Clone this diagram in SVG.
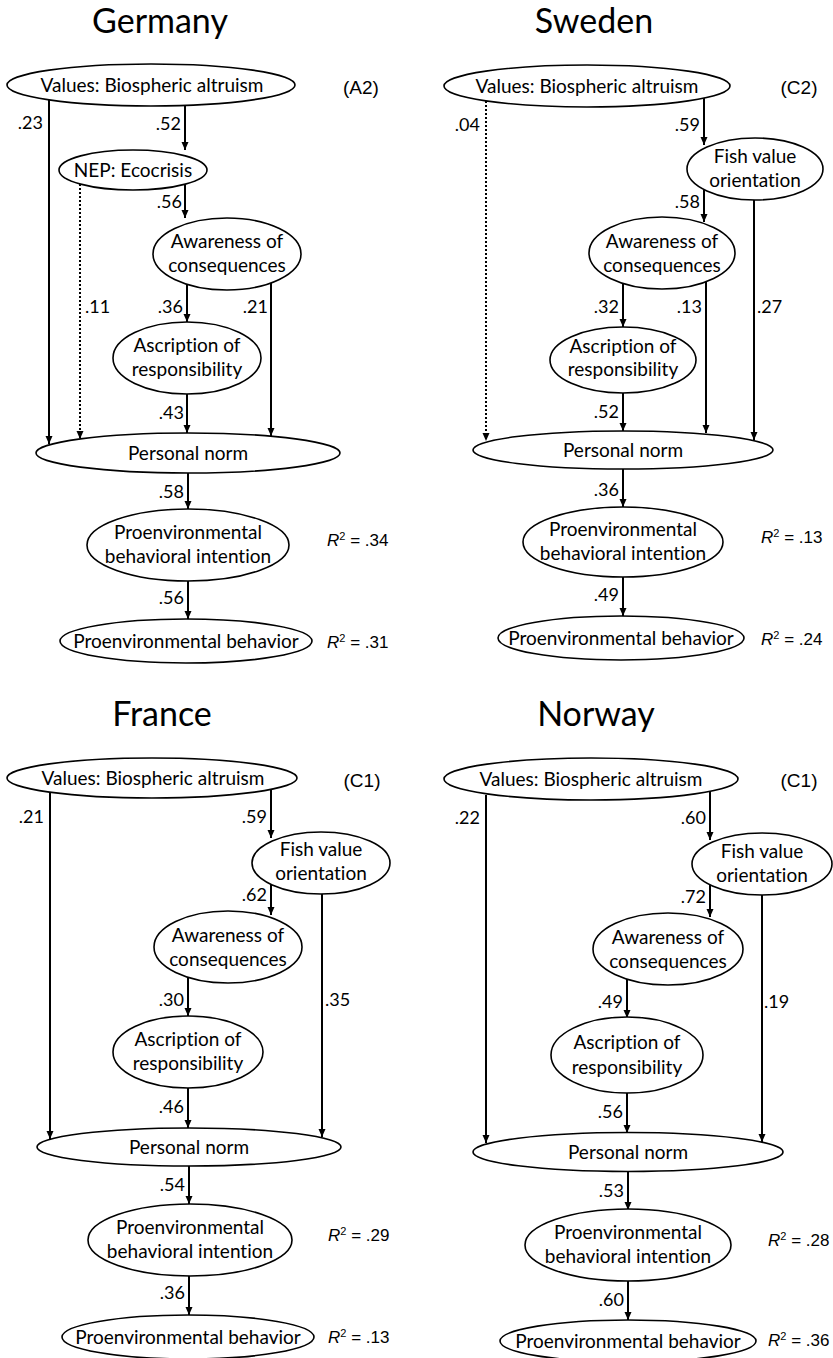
<svg xmlns="http://www.w3.org/2000/svg" width="833" height="1358" viewBox="0 0 833 1358">
<style>
.bg{fill:#fff}
.n{fill:#fff;stroke:#000;stroke-width:1.6}
.t{font-family:Lato,"Open Sans",sans-serif;font-size:19px;fill:#000;text-anchor:middle;font-variant-ligatures:none}
.title{font-family:Lato,"Open Sans",sans-serif;font-size:34px;fill:#000;text-anchor:middle}
.lb{font-family:Lato,"Open Sans",sans-serif;font-size:18px;fill:#000;text-anchor:end}
.lbs{font-family:Lato,"Open Sans",sans-serif;font-size:18px;fill:#000;text-anchor:start}
.code{font-family:"Liberation Sans",Arial,sans-serif;font-size:19px;fill:#000;text-anchor:middle}
.r2{font-family:"Liberation Sans",Arial,sans-serif;font-size:17px;fill:#000}
.c{stroke:#000;stroke-width:2;fill:none;marker-end:url(#ah)}
.d{stroke:#000;stroke-width:2;fill:none;stroke-dasharray:2 2;marker-end:url(#ah)}
</style>
<defs>
<marker id="ah" markerUnits="userSpaceOnUse" markerWidth="8" markerHeight="8" refX="8" refY="3.5" orient="auto">
<path d="M0,0 L8,3.5 L0,7 z" fill="#000"/>
</marker>
</defs>
<rect class="bg" x="0" y="0" width="833" height="1358"/>

<!-- Titles and annotations -->
<text class="title" x="160" y="33">Germany</text>
<text class="title" x="594" y="33">Sweden</text>
<text class="title" x="162" y="726">France</text>
<text class="title" x="596" y="726">Norway</text>
<text class="code" x="361" y="94">(A2)</text>
<text class="code" x="799" y="94">(C2)</text>
<text class="code" x="362" y="787">(C1)</text>
<text class="code" x="799" y="787">(C1)</text>
<text class="r2" x="327" y="546"><tspan font-style="italic">R</tspan><tspan font-size="11" dy="-6">2</tspan><tspan dy="6"> = .34</tspan></text>
<text class="r2" x="327" y="648"><tspan font-style="italic">R</tspan><tspan font-size="11" dy="-6">2</tspan><tspan dy="6"> = .31</tspan></text>
<text class="r2" x="761" y="543"><tspan font-style="italic">R</tspan><tspan font-size="11" dy="-6">2</tspan><tspan dy="6"> = .13</tspan></text>
<text class="r2" x="761" y="645"><tspan font-style="italic">R</tspan><tspan font-size="11" dy="-6">2</tspan><tspan dy="6"> = .24</tspan></text>
<text class="r2" x="328" y="1241"><tspan font-style="italic">R</tspan><tspan font-size="11" dy="-6">2</tspan><tspan dy="6"> = .29</tspan></text>
<text class="r2" x="328" y="1343"><tspan font-style="italic">R</tspan><tspan font-size="11" dy="-6">2</tspan><tspan dy="6"> = .13</tspan></text>
<text class="r2" x="768" y="1246"><tspan font-style="italic">R</tspan><tspan font-size="11" dy="-6">2</tspan><tspan dy="6"> = .28</tspan></text>
<text class="r2" x="768" y="1346"><tspan font-style="italic">R</tspan><tspan font-size="11" dy="-6">2</tspan><tspan dy="6"> = .36</tspan></text>

<!-- Connectors -->
<g id="connectors">
<!-- Germany -->
<line class="c" x1="49" y1="100" x2="49" y2="444"/>
<line class="c" x1="185" y1="105" x2="185" y2="150"/>
<line class="d" x1="80" y1="184" x2="80" y2="439"/>
<line class="c" x1="185" y1="184" x2="185" y2="218"/>
<line class="c" x1="187" y1="284" x2="187" y2="322"/>
<line class="c" x1="271" y1="283" x2="271" y2="436"/>
<line class="c" x1="187" y1="394" x2="187" y2="433"/>
<line class="c" x1="188" y1="473" x2="188" y2="509"/>
<line class="c" x1="188" y1="581" x2="188" y2="619"/>
<text class="lb" x="43" y="129">.23</text>
<text class="lb" x="181" y="130">.52</text>
<text class="lbs" x="85" y="313">.11</text>
<text class="lb" x="182" y="208">.56</text>
<text class="lb" x="183" y="313">.36</text>
<text class="lb" x="268" y="313">.21</text>
<text class="lb" x="184" y="419">.43</text>
<text class="lb" x="184" y="498">.58</text>
<text class="lb" x="184" y="604">.56</text>
<!-- Sweden -->
<line class="d" x1="486" y1="101" x2="486" y2="441"/>
<line class="c" x1="704" y1="98" x2="704" y2="145"/>
<line class="c" x1="704" y1="190" x2="704" y2="222"/>
<line class="c" x1="623" y1="283" x2="623" y2="327"/>
<line class="c" x1="706" y1="282" x2="706" y2="433"/>
<line class="c" x1="754" y1="200" x2="754" y2="440"/>
<line class="c" x1="623" y1="393" x2="623" y2="431"/>
<line class="c" x1="623" y1="469" x2="623" y2="507"/>
<line class="c" x1="623" y1="577" x2="623" y2="616"/>
<text class="lb" x="480" y="131">.04</text>
<text class="lb" x="700" y="131">.59</text>
<text class="lb" x="700" y="208">.58</text>
<text class="lb" x="619" y="313">.32</text>
<text class="lb" x="702" y="313">.13</text>
<text class="lbs" x="757" y="313">.27</text>
<text class="lb" x="619" y="418">.52</text>
<text class="lb" x="619" y="496">.36</text>
<text class="lb" x="619" y="601">.49</text>
<!-- France -->
<line class="c" x1="50" y1="793" x2="50" y2="1139"/>
<line class="c" x1="271" y1="789" x2="271" y2="838"/>
<line class="c" x1="271" y1="884" x2="271" y2="915"/>
<line class="c" x1="188" y1="977" x2="188" y2="1016"/>
<line class="c" x1="322" y1="893" x2="322" y2="1137"/>
<line class="c" x1="188" y1="1088" x2="188" y2="1128"/>
<line class="c" x1="189" y1="1166" x2="189" y2="1204"/>
<line class="c" x1="189" y1="1276" x2="189" y2="1315"/>
<text class="lb" x="44" y="823">.21</text>
<text class="lb" x="267" y="823">.59</text>
<text class="lb" x="267" y="901">.62</text>
<text class="lb" x="184" y="1006">.30</text>
<text class="lbs" x="325" y="1006">.35</text>
<text class="lb" x="184" y="1113">.46</text>
<text class="lb" x="185" y="1191">.54</text>
<text class="lb" x="185" y="1299">.36</text>
<!-- Norway -->
<line class="c" x1="486" y1="795" x2="486" y2="1143"/>
<line class="c" x1="710" y1="791" x2="710" y2="840"/>
<line class="c" x1="710" y1="885" x2="710" y2="917"/>
<line class="c" x1="627" y1="979" x2="627" y2="1018"/>
<line class="c" x1="762" y1="895" x2="762" y2="1142"/>
<line class="c" x1="627" y1="1093" x2="627" y2="1133"/>
<line class="c" x1="628" y1="1172" x2="628" y2="1210"/>
<line class="c" x1="628" y1="1281" x2="628" y2="1320"/>
<text class="lb" x="480" y="824">.22</text>
<text class="lb" x="706" y="824">.60</text>
<text class="lb" x="706" y="903">.72</text>
<text class="lb" x="623" y="1008">.49</text>
<text class="lbs" x="764" y="1008">.19</text>
<text class="lb" x="623" y="1118">.56</text>
<text class="lb" x="624" y="1197">.53</text>
<text class="lb" x="624" y="1306">.60</text>
</g>

<!-- Germany nodes -->
<g id="g-values"><ellipse class="n" cx="151" cy="85" rx="144" ry="21"/><text class="t" x="152" y="92">Values: Biospheric altruism</text></g>
<g id="g-nep"><ellipse class="n" cx="133" cy="170" rx="74" ry="20"/><text class="t" x="133" y="177">NEP: Ecocrisis</text></g>
<g id="g-aware"><ellipse class="n" cx="227" cy="254" rx="74" ry="36"/><text class="t" x="227" y="248">Awareness of</text><text class="t" x="227" y="272">consequences</text></g>
<g id="g-ascr"><ellipse class="n" cx="187" cy="358" rx="74" ry="36"/><text class="t" x="187" y="352">Ascription of</text><text class="t" x="187" y="376">responsibility</text></g>
<g id="g-pn"><ellipse class="n" cx="188" cy="453" rx="152" ry="20"/><text class="t" x="188" y="460">Personal norm</text></g>
<g id="g-int"><ellipse class="n" cx="188" cy="545" rx="101" ry="36"/><text class="t" x="188" y="539">Proenvironmental</text><text class="t" x="188" y="563">behavioral intention</text></g>
<g id="g-beh"><ellipse class="n" cx="186" cy="641" rx="126" ry="22"/><text class="t" x="186" y="648">Proenvironmental behavior</text></g>

<!-- Sweden nodes -->
<g id="s-values"><ellipse class="n" cx="587" cy="86" rx="143" ry="21"/><text class="t" x="587" y="93">Values: Biospheric altruism</text></g>
<g id="s-fish"><ellipse class="n" cx="755" cy="169" rx="68" ry="31"/><text class="t" x="755" y="163">Fish value</text><text class="t" x="755" y="187">orientation</text></g>
<g id="s-aware"><ellipse class="n" cx="662" cy="253" rx="73" ry="36"/><text class="t" x="662" y="248">Awareness of</text><text class="t" x="662" y="272">consequences</text></g>
<g id="s-ascr"><ellipse class="n" cx="623" cy="360" rx="73" ry="33"/><text class="t" x="623" y="353">Ascription of</text><text class="t" x="623" y="376">responsibility</text></g>
<g id="s-pn"><ellipse class="n" cx="623" cy="450" rx="150" ry="19"/><text class="t" x="623" y="457">Personal norm</text></g>
<g id="s-int"><ellipse class="n" cx="623" cy="542" rx="100" ry="35"/><text class="t" x="623" y="536">Proenvironmental</text><text class="t" x="623" y="560">behavioral intention</text></g>
<g id="s-beh"><ellipse class="n" cx="621" cy="638" rx="123" ry="22"/><text class="t" x="621" y="645">Proenvironmental behavior</text></g>

<!-- France nodes -->
<g id="f-values"><ellipse class="n" cx="152" cy="778" rx="145" ry="20"/><text class="t" x="153" y="785">Values: Biospheric altruism</text></g>
<g id="f-fish"><ellipse class="n" cx="321" cy="863" rx="69" ry="31"/><text class="t" x="321" y="856">Fish value</text><text class="t" x="321" y="880">orientation</text></g>
<g id="f-aware"><ellipse class="n" cx="228" cy="947" rx="74" ry="36"/><text class="t" x="228" y="942">Awareness of</text><text class="t" x="228" y="966">consequences</text></g>
<g id="f-ascr"><ellipse class="n" cx="188" cy="1052" rx="75" ry="36"/><text class="t" x="188" y="1046">Ascription of</text><text class="t" x="188" y="1070">responsibility</text></g>
<g id="f-pn"><ellipse class="n" cx="189" cy="1147" rx="152" ry="19"/><text class="t" x="189" y="1154">Personal norm</text></g>
<g id="f-int"><ellipse class="n" cx="190" cy="1240" rx="102" ry="36"/><text class="t" x="190" y="1234">Proenvironmental</text><text class="t" x="190" y="1258">behavioral intention</text></g>
<g id="f-beh"><ellipse class="n" cx="188" cy="1337" rx="126" ry="22"/><text class="t" x="188" y="1344">Proenvironmental behavior</text></g>

<!-- Norway nodes -->
<g id="n-values"><ellipse class="n" cx="591" cy="779" rx="147" ry="21"/><text class="t" x="591" y="786">Values: Biospheric altruism</text></g>
<g id="n-fish"><ellipse class="n" cx="762" cy="864" rx="70" ry="31"/><text class="t" x="762" y="858">Fish value</text><text class="t" x="762" y="882">orientation</text></g>
<g id="n-aware"><ellipse class="n" cx="668" cy="949" rx="75" ry="36"/><text class="t" x="668" y="944">Awareness of</text><text class="t" x="668" y="968">consequences</text></g>
<g id="n-ascr"><ellipse class="n" cx="627" cy="1055" rx="76" ry="38"/><text class="t" x="627" y="1049">Ascription of</text><text class="t" x="627" y="1074">responsibility</text></g>
<g id="n-pn"><ellipse class="n" cx="628" cy="1152" rx="155" ry="19.5"/><text class="t" x="628" y="1159">Personal norm</text></g>
<g id="n-int"><ellipse class="n" cx="628" cy="1245" rx="103" ry="36"/><text class="t" x="628" y="1239">Proenvironmental</text><text class="t" x="628" y="1263">behavioral intention</text></g>
<g id="n-beh"><ellipse class="n" cx="628" cy="1341" rx="128" ry="21"/><text class="t" x="628" y="1348">Proenvironmental behavior</text></g>
</svg>
